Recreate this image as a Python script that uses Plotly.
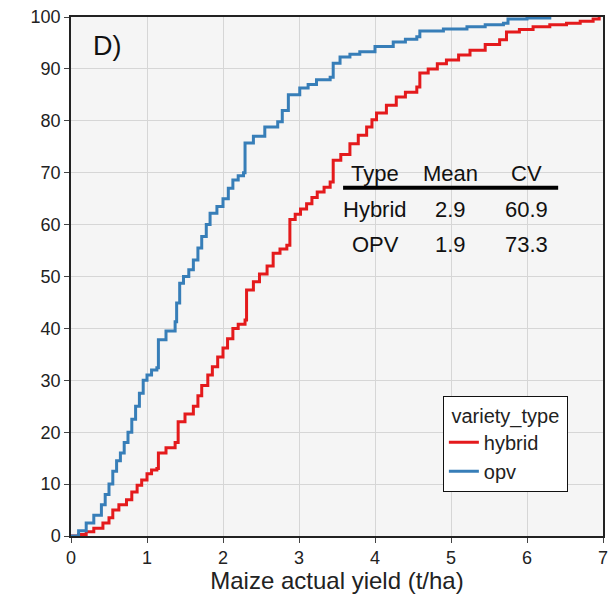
import plotly.graph_objects as go

# ECDF of maize actual yield (t/ha) by variety type
hybrid_x = [0.0, 0.1, 0.2, 0.3, 0.42, 0.5, 0.55, 0.63, 0.73, 0.8, 0.87, 0.93, 1.0, 1.06, 1.13, 1.15, 1.25, 1.37, 1.41,
            1.5, 1.61, 1.67, 1.72, 1.8, 1.86, 1.93, 2.0, 2.06, 2.13, 2.2, 2.29, 2.31, 2.4, 2.48, 2.58, 2.66, 2.75, 2.84,
            2.88, 2.95, 3.02, 3.1, 3.17, 3.24, 3.33, 3.41, 3.45, 3.55, 3.67, 3.78, 3.89, 3.96, 4.02, 4.15, 4.28, 4.4,
            4.55, 4.59, 4.7, 4.82, 4.94, 5.1, 5.25, 5.45, 5.64, 5.73, 5.9, 6.08, 6.3, 6.52, 6.7, 6.87, 6.95]
hybrid_y = [0.0, 0.3, 0.8, 1.5, 2.5, 3.5, 5.0, 6.0, 7.0, 8.5, 9.8, 10.8, 12.0, 12.7, 13.0, 16.0, 17.0, 18.0, 22.0,
            23.5, 25.0, 27.0, 29.0, 31.0, 32.6, 34.5, 36.2, 38.0, 40.0, 40.8, 41.6, 47.4, 49.0, 50.5, 52.0, 54.5, 55.3,
            56.0, 61.0, 62.0, 63.0, 64.0, 65.2, 66.3, 67.2, 68.2, 72.4, 73.5, 75.6, 77.2, 78.8, 80.2, 81.5, 83.0, 84.6,
            85.5, 86.5, 89.2, 90.0, 91.0, 91.7, 92.7, 93.6, 94.7, 95.6, 97.1, 97.6, 98.1, 98.5, 98.8, 99.2, 99.6, 100.0]

opv_x = [0.0, 0.1, 0.2, 0.3, 0.4, 0.45, 0.5, 0.55, 0.6, 0.65, 0.7, 0.75, 0.8, 0.85, 0.9, 0.95, 1.0, 1.06, 1.13,
         1.15, 1.25, 1.37, 1.39, 1.43, 1.48, 1.55, 1.61, 1.67, 1.72, 1.78, 1.83, 1.92, 2.0, 2.07, 2.13, 2.2, 2.27,
         2.29, 2.4, 2.55, 2.72, 2.78, 2.86, 3.01, 3.12, 3.23, 3.41, 3.45, 3.54, 3.67, 3.8, 4.0, 4.24, 4.4, 4.55,
         4.59, 4.9, 5.21, 5.45, 5.69, 5.75, 6.0, 6.3]
opv_y = [0.0, 1.0, 2.5, 4.0, 6.0, 8.0, 10.0, 12.5, 14.5, 16.0, 18.0, 20.0, 22.5, 25.0, 27.5, 30.0, 31.0, 32.0, 32.4,
         37.8, 39.5, 41.3, 44.9, 48.7, 50.0, 51.3, 53.2, 55.5, 57.7, 60.0, 62.2, 63.5, 65.0, 67.0, 68.6, 69.4, 70.0,
         75.7, 77.0, 78.8, 79.8, 82.0, 85.0, 86.3, 87.0, 87.9, 88.4, 91.1, 92.3, 92.8, 93.3, 94.3, 95.2, 95.7, 96.2,
         97.3, 97.7, 98.1, 98.5, 98.8, 99.6, 99.8, 100.0]

series_names = ["hybrid", "opv"]
series_colors = ["#E41A1C", "#377EB8"]

table_header = ["Type", "Mean", "CV"]
table_rows = [["Hybrid", "2.9", "60.9"], ["OPV", "1.9", "73.3"]]
table_col_x = [4.0, 4.99, 5.99]
table_row_y = [69.9, 63.0, 56.1]

x_ticks = [0, 1, 2, 3, 4, 5, 6, 7]
y_ticks = [0, 10, 20, 30, 40, 50, 60, 70, 80, 90, 100]

FONT = "Liberation Sans, Arial, sans-serif"

fig = go.Figure()
for name, xs, ys, col in zip(series_names, [hybrid_x, opv_x], [hybrid_y, opv_y], series_colors):
    fig.add_trace(go.Scatter(x=xs, y=ys, mode="lines", name=name,
                             line=dict(color=col, width=3, shape="hv")))

annotations = [dict(x=0.48, y=94.4, xref="x", yref="y", text="D)", showarrow=False,
                    font=dict(family=FONT, size=27, color="#111"))]
for cx, t in zip(table_col_x, table_header):
    annotations.append(dict(x=cx, y=table_row_y[0], xref="x", yref="y", text=t, showarrow=False,
                            font=dict(family=FONT, size=22, color="#111")))
for ry, row in zip(table_row_y[1:], table_rows):
    for cx, t in zip(table_col_x, row):
        annotations.append(dict(x=cx, y=ry, xref="x", yref="y", text=t, showarrow=False,
                                font=dict(family=FONT, size=22, color="#111")))

fig.update_layout(
    width=610, height=594,
    margin=dict(l=71, r=7, t=17, b=58),
    paper_bgcolor="white",
    plot_bgcolor="#f5f5f5",
    font=dict(family=FONT, size=18, color="#222"),
    showlegend=True,
    legend=dict(title=dict(text="\u00a0variety_type\u00a0", font=dict(size=20)),
                x=0.699, y=0.27, xanchor="left", yanchor="top",
                bgcolor="white", bordercolor="#111", borderwidth=1,
                font=dict(size=20), itemwidth=30, tracegroupgap=0),
    annotations=annotations,
    shapes=[dict(type="line", xref="x", yref="y", x0=3.58, x1=6.41, y0=67.1, y1=67.1,
                 line=dict(color="black", width=4))],
)
fig.update_xaxes(range=[0, 7], tickvals=x_ticks, showgrid=True, gridcolor="#d6d6d6", gridwidth=1,
                 zeroline=False, showline=True, linecolor="#222", linewidth=1.5, mirror=True,
                 ticks="outside", ticklen=5, tickcolor="#444", automargin=False,
                 title=dict(text="Maize actual yield (t/ha)", font=dict(size=24), standoff=6),
                 tickfont=dict(size=18))
fig.update_yaxes(range=[0, 100], tickvals=y_ticks, showgrid=True, gridcolor="#d6d6d6", gridwidth=1,
                 zeroline=False, showline=True, linecolor="#222", linewidth=1.5, mirror=True,
                 ticks="outside", ticklen=5, tickcolor="#444", tickfont=dict(size=18), automargin=False)

fig.write_html("out.html")
